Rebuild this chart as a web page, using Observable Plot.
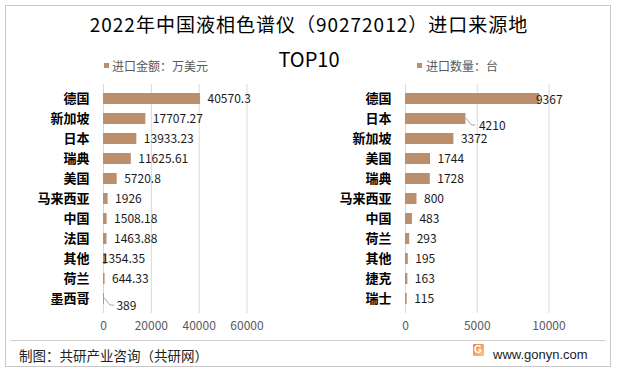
<!DOCTYPE html>
<html><head><meta charset="utf-8">
<script src="https://cdn.jsdelivr.net/npm/d3@7"></script>
<script src="https://cdn.jsdelivr.net/npm/@observablehq/plot@0.6"></script>
<style>
body{margin:0;background:#fff;font-family:"Noto Sans CJK SC","Noto Sans",sans-serif;}
#root{position:relative;width:618px;height:377px;overflow:hidden;background:#fff;}
.abs{position:absolute;white-space:nowrap;}
</style></head><body><div id="root">
<div class="abs" style="left:5px;top:5px;width:606px;height:362px;box-sizing:border-box;border:1px solid #c8c8c8;"></div>
<div class="abs" id="title" style="left:0;top:13px;width:618px;text-align:center;font-size:19px;letter-spacing:1px;line-height:22px;color:#000;">2022年中国液相色谱仪（90272012）进口来源地</div>
<div class="abs" style="left:0;top:47px;width:618px;text-align:center;font-size:20px;line-height:24px;color:#000;">TOP10</div>
<div class="abs" style="left:104px;top:63px;width:5px;height:5px;background:#BB8E6C;"></div>
<div class="abs" id="legL" style="left:112px;top:58px;font-size:12px;line-height:16px;color:#595959;"></div>
<div class="abs" style="left:417px;top:63px;width:5px;height:5px;background:#BB8E6C;"></div>
<div class="abs" id="legR" style="left:426px;top:58px;font-size:12px;line-height:16px;color:#595959;"></div>
<div class="abs" id="left" style="left:0;top:70px;"></div>
<div class="abs" id="right" style="left:310px;top:70px;"></div>
<div class="abs" style="left:10px;top:340px;width:596px;height:1px;background:#d0d0d0;"></div>
<div class="abs" style="left:19px;top:346px;font-size:13.5px;line-height:18px;color:#222;">制图：共研产业咨询（共研网）</div>
<div class="abs" style="left:473px;top:344px;width:11px;height:12px;background:linear-gradient(135deg,#f0823a,#f8c58c);border-radius:1px;"></div>
<div class="abs" style="left:474px;top:343px;font-size:10px;line-height:14px;color:#fff;font-weight:bold;font-family:'Liberation Sans',sans-serif;">G</div>
<div class="abs" style="left:493px;top:346px;font-size:13px;line-height:17px;color:#222;font-family:'Liberation Sans',Arial,sans-serif;">www.gonyn.com</div>
</div>
<script>
// ---- data ----
const amountLegend = "进口金额：万美元";
const amountCountries = ["德国","新加坡","日本","瑞典","美国","马来西亚","中国","法国","其他","荷兰","墨西哥"];
const amountValues = [40570.3, 17707.27, 13933.23, 11625.61, 5720.8, 1926, 1508.18, 1463.88, 1354.35, 644.33, 389];
const amountTicks = [0, 20000, 40000, 60000];

const qtyLegend = "进口数量：台";
const qtyCountries = ["德国","日本","新加坡","美国","瑞典","马来西亚","中国","荷兰","其他","捷克","瑞士"];
const qtyValues = [9367, 4210, 3372, 1744, 1728, 800, 483, 293, 195, 163, 115];
const qtyTicks = [0, 5000, 10000];

document.getElementById("legL").textContent = amountLegend;
document.getElementById("legR").textContent = qtyLegend;

const BAR = "#BB8E6C";
const FONT = "Noto Sans CJK SC, Noto Sans, sans-serif";

function makeChart(names, values, ticks, opts){
  const rows = names.map((n,i)=>({name:n, value:values[i], label:String(values[i]), i}));
  const special = opts.special;
  const textStyle = {x:"value", y:"name", text:"label", textAnchor:"start", fontSize:12, fill:"#1a1a1a"};
  const marks = [
    Plot.ruleX(ticks, {stroke:"#d9d9d9", strokeWidth:1}),
    Plot.barX(rows, {x:"value", y:"name", fill:BAR}),
    Plot.text(rows.filter(d=>!(d.i in special)), {...textStyle, dx:7}),
  ];
  for (const k of Object.keys(special)) {
    const o = special[k];
    marks.push(Plot.text(rows.filter(d=>d.i===+k), {...textStyle, dx:o.dx, dy:o.dy}));
  }
  marks.push(Plot.axisX({ticks, tickSize:0, tickPadding:8, fontSize:12, fill:"#595959", tickFormat:d=>String(d), label:null}));
  marks.push(Plot.axisY({tickSize:0, tickPadding:14, fontSize:13, fontWeight:"bold", fill:"#000", label:null}));
  const svg = Plot.plot({
    width: 300, height: 270,
    marginLeft: opts.ml, marginRight: 300 - opts.ml - 143.5, marginTop: 14, marginBottom: 27,
    x: {domain:[ticks[0], ticks[ticks.length-1]], nice:false, label:null},
    y: {domain:names, paddingInner:0.47, paddingOuter:0.235, label:null},
    style: {fontFamily: FONT, background:"transparent", overflow:"visible", color:"#000"},
    marks
  });
  // leader lines for displaced labels
  const xs = svg.scale("x"), ys = svg.scale("y");
  for (const k of Object.keys(special)) {
    if (!special[k].leader) continue;
    const d = rows[+k];
    const x0 = xs.apply(d.value);
    const y0 = ys.apply(d.name) + (ys.bandwidth || 0)/2;
    d3.select(svg).append("path")
      .attr("d", `M${x0},${y0 - 1}l6,7.5h4`)
      .attr("fill","none").attr("stroke","#a6a6a6").attr("stroke-width",1);
  }
  return svg;
}

document.getElementById("left").appendChild(makeChart(amountCountries, amountValues, amountTicks, {
  ml: 103,
  special: {8:{dx:-5, dy:0}, 10:{dx:12, dy:7, leader:true}}
}));
document.getElementById("right").appendChild(makeChart(qtyCountries, qtyValues, qtyTicks, {
  ml: 95,
  special: {0:{dx:-4, dy:1}, 1:{dx:13, dy:7.5, leader:true}}
}));
</script>
</body></html>
